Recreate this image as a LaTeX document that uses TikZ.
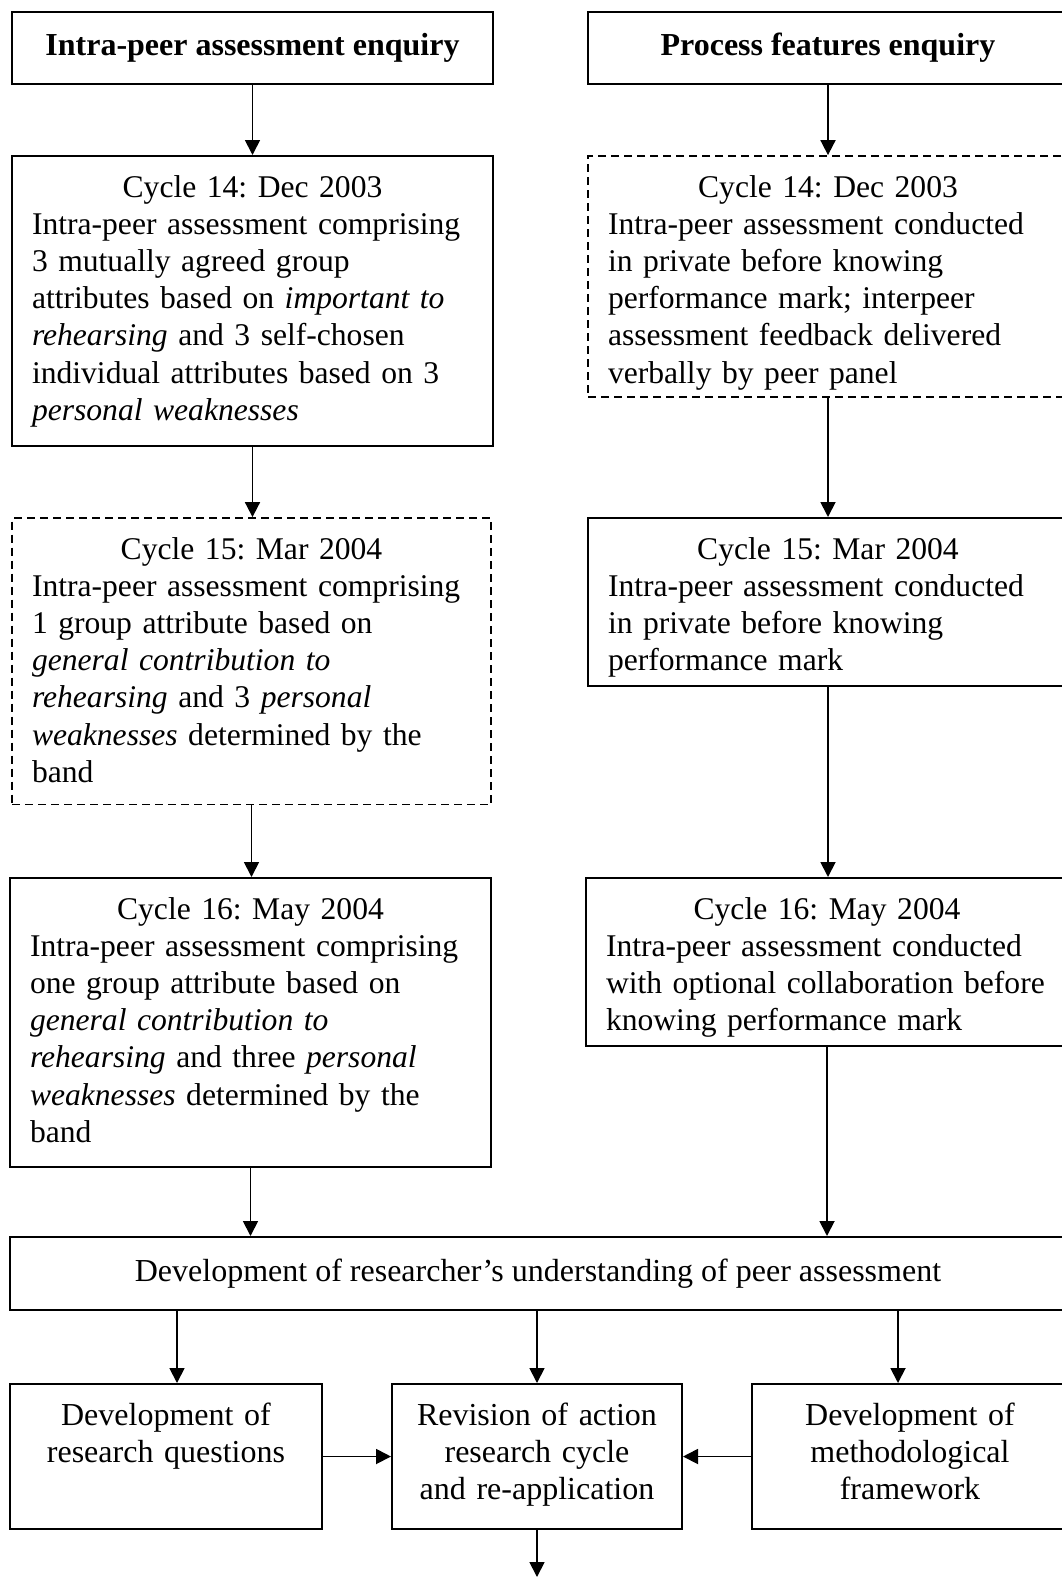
\documentclass[tikz,border=0pt]{standalone}
\usepackage{fontspec}
\setmainfont{Liberation Serif}
\usetikzlibrary{arrows.meta}
\frenchspacing
\newcommand{\cyctitle}[1]{\centerline{#1}\raggedright}
\begin{document}
\begin{tikzpicture}[x=1pt,y=-1pt,
  every node/.style={font=\fontsize{32}{37.2}\selectfont\frenchspacing},
  box/.style={draw,line width=2pt,rectangle,inner xsep=20pt,inner ysep=0pt},
  dbox/.style={box,line width=1.8pt,dash pattern=on 8pt off 5pt},
  cyc/.style={font=\fontsize{31.6}{37.2}\selectfont\frenchspacing,text height=41pt},
  arr/.style={line width=1.8pt,-{Triangle[length=15pt,width=15pt]}}]
\useasboundingbox (0,0) rectangle (1062,1577);
\clip (0,0) rectangle (1062,1577);
\fill[white] (0,0) rectangle (1062,1577);

\node[box,minimum width=481pt,minimum height=71.5pt,font=\fontsize{32}{37.2}\selectfont\bfseries] (tl) at (252.5,47.75) {Intra-peer assessment enquiry};
\node[box,minimum width=480pt,minimum height=71.5pt,font=\fontsize{32}{37.2}\selectfont\bfseries] (tr) at (828,47.75) {Process features enquiry};

\node[box,cyc,text width=441pt,text depth=248.5pt] (l1) at (252.5,300.75) {\cyctitle{Cycle 14: Dec 2003}
Intra-peer assessment comprising\\
3 mutually agreed group\\
attributes based on \textit{important to}\\
\textit{rehearsing} and 3 self-chosen\\
individual attributes based on 3\\
\textit{personal weaknesses}};

\node[dbox,cyc,text width=440pt,text depth=200pt] (r1) at (828,276.5) {\cyctitle{Cycle 14: Dec 2003}
Intra-peer assessment conducted\\
in private before knowing\\
performance mark; interpeer\\
assessment feedback delivered\\
verbally by peer panel};

\node[dbox,cyc,text width=439pt,text depth=245.5pt] (l2) at (251.5,661.25) {\cyctitle{Cycle 15: Mar 2004}
Intra-peer assessment comprising\\
1 group attribute based on\\
\textit{general contribution to}\\
\textit{rehearsing} and 3 \textit{personal}\\
\textit{weaknesses} determined by the\\
band};

\node[box,cyc,text width=440pt,text depth=127pt] (r2) at (828,602) {\cyctitle{Cycle 15: Mar 2004}
Intra-peer assessment conducted\\
in private before knowing\\
performance mark};

\node[box,cyc,text width=441pt,text depth=247.6pt] (l3) at (250.5,1022.3) {\cyctitle{Cycle 16: May 2004}
Intra-peer assessment comprising\\
one group attribute based on\\
\textit{general contribution to}\\
\textit{rehearsing} and three \textit{personal}\\
\textit{weaknesses} determined by the\\
band};

\node[box,cyc,text width=442pt,text depth=127pt] (r3) at (827,962) {\cyctitle{Cycle 16: May 2004}
Intra-peer assessment conducted\\
with optional collaboration before\\
knowing performance mark};

\node[box,minimum width=1056pt,minimum height=73pt] (big) at (538,1273.5) {Development of researcher’s understanding of peer assessment};

\node[box,text height=41pt,text depth=104pt,text width=272pt] (b1) at (166,1456.5) {\centering Development of\\research questions\par};
\node[box,text height=41pt,text depth=104pt,text width=250pt] (b2) at (537,1456.5) {\centering Revision of action\\research cycle\\and re-application\par};
\node[box,text height=41pt,text depth=104pt,text width=276pt] (b3) at (910,1456.5) {\centering Development of\\methodological\\framework\par};

\coordinate (end) at (537,1577);

\draw[arr] (tl.south) -- (l1.north);
\draw[arr] (l1.south) -- (l1.south |- l2.north);
\draw[arr] (l2.south) -- (l2.south |- l3.north);
\draw[arr] (l3.south) -- (l3.south |- big.north);
\draw[arr] (tr.south) -- (r1.north);
\draw[arr] (r1.south) -- (r2.north);
\draw[arr] (r2.south) -- (r2.south |- r3.north);
\draw[arr] (r3.south) -- (r3.south |- big.north);
\draw[arr] (big.south -| 177,0) -- (b1.north -| 177,0);
\draw[arr] (big.south -| b2.north) -- (b2.north);
\draw[arr] (big.south -| 898,0) -- (b3.north -| 898,0);
\draw[arr] (b1.east) -- (b2.west);
\draw[arr] (b3.west) -- (b2.east);
\draw[arr] (b2.south) -- (end);
\end{tikzpicture}
\end{document}
